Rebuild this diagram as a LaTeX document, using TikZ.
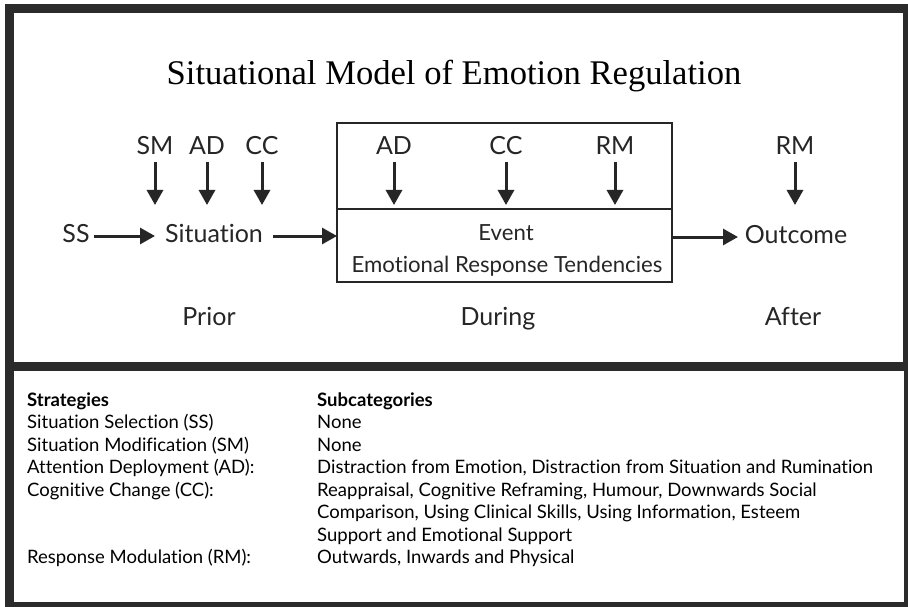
\documentclass[tikz,border=0pt]{standalone}
\usepackage{fontspec}
\setmainfont[Ligatures={NoCommon}]{Lato}
\newfontfamily\titlefont{Liberation Serif}
\usetikzlibrary{arrows.meta}
\definecolor{frame}{HTML}{2B2B2B}
\definecolor{ink}{HTML}{262626}
\begin{document}
\begin{tikzpicture}[x=1pt,y=-1pt,
  lbl/.style={inner sep=0pt,anchor=base,text=ink,font=\fontsize{25}{28}\selectfont},
  sub/.style={inner sep=0pt,anchor=base,text=ink,font=\fontsize{22.2}{26}\selectfont},
  tbl/.style={inner sep=0pt,anchor=base west,text=black,font=\fontsize{18.5}{22}\selectfont},
  arr/.style={draw=ink,line width=3pt,-{Triangle[length=15pt,width=16pt]}},
  boxline/.style={draw=ink,line width=2.8pt}]
\useasboundingbox (0,0) rectangle (908,607);
\fill[white] (0,0) rectangle (908,607);
% frame
\fill[frame] (5,4) rectangle (908,607);
\fill[white] (14,13) rectangle (903,362);
\fill[white] (14,371) rectangle (904,602);
% title
\node[inner sep=0pt,anchor=base] (title) at (454,85) {\titlefont\fontsize{34.6}{40}\selectfont Situational Model of Emotion Regulation};
% box
\coordinate (bTL) at (337,123);
\coordinate (bBR) at (672,282);
\draw[boxline] (bTL) rectangle (bBR);
\coordinate (dL) at (337,209);
\coordinate (dR) at (672,209);
\draw[boxline] (dL) -- (dR);
% top labels
\node[lbl] (sm) at (155,155) {SM};
\node[lbl] (ad1) at (207,155) {AD};
\node[lbl] (cc1) at (262,155) {CC};
\node[lbl] (ad2) at (394,155) {AD};
\node[lbl] (cc2) at (506,155) {CC};
\node[lbl] (rm1) at (615,155) {RM};
\node[lbl] (rm2) at (795,155) {RM};
% targets of vertical arrows
\coordinate (tsm) at (155,205);
\coordinate (tad1) at (207,205);
\coordinate (tcc1) at (262,205);
\coordinate (tad2) at (394,205);
\coordinate (tcc2) at (506,205);
\coordinate (trm1) at (615,205);
\coordinate (trm2) at (795,205);
\foreach \a/\b in {sm/tsm,ad1/tad1,cc1/tcc1,ad2/tad2,cc2/tcc2,rm1/trm1,rm2/trm2}
  \draw[arr] (\a.south |- 0,162) -- (\b);
% row
\node[lbl] (ss) at (76,242) {SS};
\node[lbl] (sit) at (214,242) {Situation};
\node[lbl] (out) at (796,243) {Outcome};
\node[sub] (ev) at (506,240) {Event};
\node[sub] (ert) at (507,272) {Emotional Response Tendencies};
\draw[arr] (94,236) -- (155,236);
\draw[arr] (273,236) -- (337,236);
\draw[arr] (672,237) -- (738,237);
% phases
\node[lbl] (prior) at (209,325) {Prior};
\node[lbl] (during) at (498,325) {During};
\node[lbl] (after) at (793,325) {After};
% table
\node[tbl] (h1) at (27,406) {\bfseries Strategies};
\node[tbl] (h2) at (317,406) {\bfseries Subcategories};
\node[tbl] (s1) at (27,428.5) {Situation Selection (SS)};
\node[tbl] (s2) at (27,451) {Situation Modification (SM)};
\node[tbl] (s3) at (27,473.5) {Attention Deployment (AD):};
\node[tbl] (s4) at (27,496) {Cognitive Change (CC):};
\node[tbl] (s5) at (27,563.5) {Response Modulation (RM):};
\node[tbl] (c1) at (317,428.5) {None};
\node[tbl] (c2) at (317,451) {None};
\node[tbl] (c3) at (317,473.5) {Distraction from Emotion, Distraction from Situation and Rumination};
\node[tbl] (c4) at (317,496) {Reappraisal, Cognitive Reframing, Humour, Downwards Social};
\node[tbl] (c4b) at (317,518.5) {Comparison, Using Clinical Skills, Using Information, Esteem};
\node[tbl] (c4c) at (317,541) {Support and Emotional Support};
\node[tbl] (c5) at (317,563.5) {Outwards, Inwards and Physical};
\end{tikzpicture}
\end{document}
